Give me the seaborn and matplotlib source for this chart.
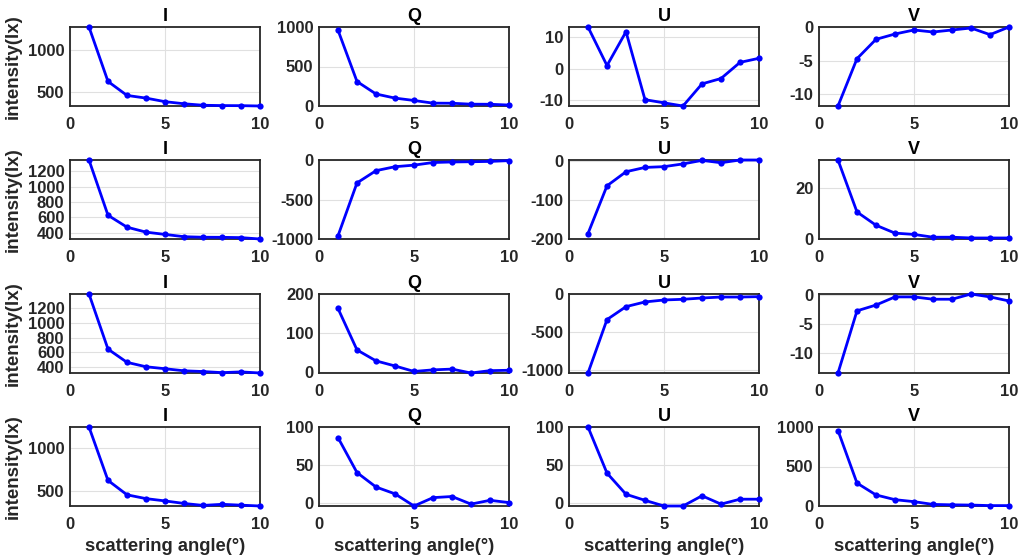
import numpy as np
import pandas as pd
import matplotlib
matplotlib.use("Agg")
import matplotlib.pyplot as plt
import seaborn as sns

angles = [1, 2, 3, 4, 5, 6, 7, 8, 9, 10]
components = ["I", "Q", "U", "V"]

# row 1
I1 = [1282, 628, 460, 428, 385, 360, 342, 338, 337, 333]
Q1 = [960, 310, 152, 100, 70, 36, 35, 23, 22, 12]
U1 = [13.2, 1.0, 11.7, -9.8, -10.8, -11.8, -4.8, -3.1, 2.0, 3.3]
V1 = [-11.8, -4.7, -1.8, -1.0, -0.4, -0.7, -0.4, -0.1, -1.1, 0.05]
# row 2
I2 = [1350, 626, 470, 405, 375, 345, 338, 337, 333, 315]
Q2 = [-960, -290, -135, -85, -65, -32, -25, -22, -18, -8]
U2 = [-186, -64, -28, -17, -15, -8, 1, -5, 2, 2]
V2 = [31, 10.6, 5.4, 2.3, 1.8, 0.7, 0.7, 0.4, 0.4, 0.4]
# row 3
I3 = [1395, 645, 465, 405, 378, 350, 340, 325, 335, 320]
Q3 = [163, 57, 29, 16, 2, 6, 8, -2, 4, 5]
U3 = [-1044, -338, -167, -105, -79, -70, -53, -40, -40, -35]
V3 = [-13.4, -2.7, -1.7, -0.3, -0.3, -0.7, -0.7, 0.2, -0.3, -1.0]
# row 4
I4 = [1250, 620, 450, 405, 378, 348, 325, 338, 328, 318]
Q4 = [86, 40, 21, 12, -4, 7, 8.5, -1.5, 3.5, 0.5]
U4 = [100, 39, 11, 3, -4.5, -4.5, 9, -2, 4.5, 4.5]
V4 = [955, 290, 140, 80, 55, 20, 15, 12, 5, 5]

rows = [[I1, Q1, U1, V1], [I2, Q2, U2, V2], [I3, Q3, U3, V3], [I4, Q4, U4, V4]]

yticks = [
    [[500, 1000], [0, 500, 1000], [-10, 0, 10], [-10, -5, 0]],
    [[400, 600, 800, 1000, 1200], [-1000, -500, 0], [-200, -100, 0], [0, 20]],
    [[400, 600, 800, 1000, 1200], [0, 100, 200], [-1000, -500, 0], [-10, -5, 0]],
    [[500, 1000], [0, 50, 100], [0, 50, 100], [0, 500, 1000]],
]
# fixed y-limits where the axis is not tight to the data (None = tight)
ylims = [
    [None, (0, 1000), None, None],
    [None, (-1000, 0), (-200, None), (0, None)],
    [None, (None, 200), (None, 0), None],
    [None, (None, 100), (None, 100), (0, 1000)],
]
xticks = [0, 5, 10]
ylabel = "intensity(lx)"
xlabel = "scattering angle(°)"

sns.set_theme(style="whitegrid")
plt.rcParams["font.family"] = ["Liberation Sans", "DejaVu Sans"]
plt.rcParams["font.weight"] = "bold"
plt.rcParams["axes.unicode_minus"] = False

fig = plt.figure(figsize=(10.28, 5.56), dpi=100)
lefts = [70, 319, 569, 819]
tops = [27, 160, 294, 427]
W, H = 1028, 556
aw, ah = 190, 79

txtc = "#262626"
for r in range(4):
    for c in range(4):
        ax = fig.add_axes([lefts[c] / W, 1 - (tops[r] + ah) / H, aw / W, ah / H])
        df = pd.DataFrame({"angle": angles, "val": rows[r][c]})
        sns.lineplot(data=df, x="angle", y="val", ax=ax, color="#0000ff",
                     linewidth=2.0, marker="o", markersize=4.5,
                     markeredgewidth=0, clip_on=False, zorder=5)
        ax.set_xlim(0, 10)
        vals = rows[r][c]
        lo, hi = min(vals), max(vals)
        lim = ylims[r][c]
        if lim is not None:
            lo = lim[0] if lim[0] is not None else lo
            hi = lim[1] if lim[1] is not None else hi
        ax.set_ylim(lo, hi)
        ax.set_xticks(xticks)
        ax.set_yticks(yticks[r][c])
        ax.grid(True, color="#e0e0e0", linewidth=0.8)
        for s in ax.spines.values():
            s.set_color("#262626")
            s.set_linewidth(1.3)
        ax.tick_params(axis="both", direction="in", length=3, width=1,
                       colors=txtc, labelsize=12, pad=4)
        ax.tick_params(axis="x", pad=8)
        for lab in ax.get_xticklabels() + ax.get_yticklabels():
            lab.set_fontweight("bold")
        ax.set_title(components[c], fontsize=13, fontweight="bold",
                     color="black", pad=4)
        if c == 0:
            ax.set_ylabel(ylabel, fontsize=13.5, fontweight="bold", color=txtc)
            ax.yaxis.set_label_coords(-0.255, 0.5)
        else:
            ax.set_ylabel("")
        if r == 3:
            ax.set_xlabel(xlabel, fontsize=13.2, fontweight="bold", color=txtc)
            ax.xaxis.set_label_coords(0.5, -0.4)
        else:
            ax.set_xlabel("")

fig.savefig("out.png", dpi=100)
